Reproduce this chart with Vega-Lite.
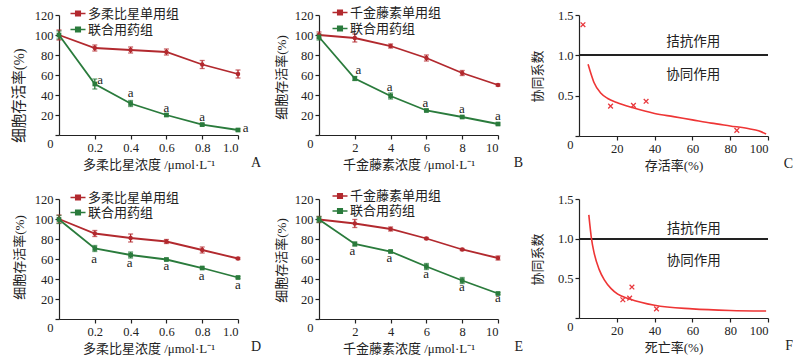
{
  "$schema": "https://vega.github.io/schema/vega-lite/v6.json",
  "background": "white",
  "padding": {"left": 11, "top": 6, "right": 0, "bottom": 0},
  "config": {
    "font": "Liberation Serif, Noto Sans CJK SC",
    "view": {"stroke": null},
    "axis": {"grid": false, "domainColor": "#222", "tickColor": "#222", "labelColor": "#222", "titleColor": "#222", "labelFontSize": 12.5, "titleFontSize": 13, "titleFontWeight": "normal", "tickSize": 4, "labelPadding": 2, "titlePadding": 5, "domainWidth": 1.2, "tickWidth": 1.2, "labelFont": "Liberation Serif", "titleFont": "Liberation Serif, Noto Sans CJK SC"},
    "legend": {"labelFont": "Liberation Serif, Noto Sans CJK SC", "labelFontSize": 13, "labelColor": "#222"},
    "title": {"font": "Liberation Serif", "fontSize": 14, "fontWeight": "normal", "color": "#222"},
    "text": {"font": "Liberation Serif, Noto Sans CJK SC"}
  },
  "datasets": {
    "A": [
      {"x": 0, "y": 100, "err": 5, "group": "多柔比星单用组"},
      {"x": 0.2, "y": 87, "err": 3, "group": "多柔比星单用组"},
      {"x": 0.4, "y": 85, "err": 3, "group": "多柔比星单用组"},
      {"x": 0.6, "y": 83, "err": 3, "group": "多柔比星单用组"},
      {"x": 0.8, "y": 70.5, "err": 4, "group": "多柔比星单用组"},
      {"x": 1.0, "y": 61, "err": 4, "group": "多柔比星单用组"},
      {"x": 0, "y": 100, "err": 4, "group": "联合用药组"},
      {"x": 0.2, "y": 51, "err": 5, "group": "联合用药组"},
      {"x": 0.4, "y": 31.5, "err": 3, "group": "联合用药组"},
      {"x": 0.6, "y": 20, "err": 1.2, "group": "联合用药组"},
      {"x": 0.8, "y": 10.4, "err": 1.2, "group": "联合用药组"},
      {"x": 1.0, "y": 5, "err": 1.2, "group": "联合用药组"}
    ],
    "Aa": [
      {"x": 0.23, "y": 55.3, "t": "a"}, {"x": 0.4, "y": 42, "t": "a"}, {"x": 0.6, "y": 27.5, "t": "a"}, {"x": 0.8, "y": 17.8, "t": "a"}, {"x": 1.043, "y": 7.4, "t": "a"}
    ],
    "B": [
      {"x": 0, "y": 100, "err": 3, "group": "千金藤素单用组"},
      {"x": 2, "y": 97, "err": 4, "group": "千金藤素单用组"},
      {"x": 4, "y": 89, "err": 2, "group": "千金藤素单用组"},
      {"x": 6, "y": 77, "err": 3, "group": "千金藤素单用组"},
      {"x": 8, "y": 62, "err": 2.5, "group": "千金藤素单用组"},
      {"x": 10, "y": 50, "err": 1, "group": "千金藤素单用组"},
      {"x": 0, "y": 98, "err": 3, "group": "联合用药组"},
      {"x": 2, "y": 56.5, "err": 2, "group": "联合用药组"},
      {"x": 4, "y": 39, "err": 3, "group": "联合用药组"},
      {"x": 6, "y": 24.5, "err": 1, "group": "联合用药组"},
      {"x": 8, "y": 18, "err": 1, "group": "联合用药组"},
      {"x": 10, "y": 11, "err": 1, "group": "联合用药组"}
    ],
    "Ba": [
      {"x": 2.2, "y": 65.4, "t": "a"}, {"x": 3.95, "y": 47.6, "t": "a"}, {"x": 5.95, "y": 31.8, "t": "a"}, {"x": 7.98, "y": 25.8, "t": "a"}, {"x": 10, "y": 19.4, "t": "a"}
    ],
    "D": [
      {"x": 0, "y": 100, "err": 4, "group": "多柔比星单用组"},
      {"x": 0.2, "y": 85.5, "err": 3, "group": "多柔比星单用组"},
      {"x": 0.4, "y": 81, "err": 4, "group": "多柔比星单用组"},
      {"x": 0.6, "y": 77.5, "err": 2, "group": "多柔比星单用组"},
      {"x": 0.8, "y": 69, "err": 3, "group": "多柔比星单用组"},
      {"x": 1.0, "y": 60.5, "err": 1, "group": "多柔比星单用组"},
      {"x": 0, "y": 99.5, "err": 4, "group": "联合用药组"},
      {"x": 0.2, "y": 70.5, "err": 3, "group": "联合用药组"},
      {"x": 0.4, "y": 64, "err": 3, "group": "联合用药组"},
      {"x": 0.6, "y": 59.5, "err": 1, "group": "联合用药组"},
      {"x": 0.8, "y": 51, "err": 1, "group": "联合用药组"},
      {"x": 1.0, "y": 41.5, "err": 1, "group": "联合用药组"}
    ],
    "Da": [
      {"x": 0.196, "y": 60, "t": "a"}, {"x": 0.395, "y": 55.7, "t": "a"}, {"x": 0.6, "y": 53.3, "t": "a"}, {"x": 0.797, "y": 43.3, "t": "a"}, {"x": 1.0, "y": 34.3, "t": "a"}
    ],
    "E": [
      {"x": 0, "y": 99.5, "err": 3, "group": "千金藤素单用组"},
      {"x": 2, "y": 95.5, "err": 4, "group": "千金藤素单用组"},
      {"x": 4, "y": 90, "err": 2, "group": "千金藤素单用组"},
      {"x": 6, "y": 80.5, "err": 1, "group": "千金藤素单用组"},
      {"x": 8, "y": 69.5, "err": 1, "group": "千金藤素单用组"},
      {"x": 10, "y": 61, "err": 2, "group": "千金藤素单用组"},
      {"x": 0, "y": 99.5, "err": 3, "group": "联合用药组"},
      {"x": 2, "y": 75, "err": 2, "group": "联合用药组"},
      {"x": 4, "y": 67.5, "err": 1, "group": "联合用药组"},
      {"x": 6, "y": 52.5, "err": 3, "group": "联合用药组"},
      {"x": 8, "y": 38.5, "err": 3, "group": "联合用药组"},
      {"x": 10, "y": 25.5, "err": 1, "group": "联合用药组"}
    ],
    "Ea": [
      {"x": 1.87, "y": 68.3, "t": "a"}, {"x": 3.93, "y": 60.7, "t": "a"}, {"x": 5.98, "y": 45, "t": "a"}, {"x": 7.98, "y": 31.7, "t": "a"}, {"x": 10, "y": 21, "t": "a"}
    ],
    "Cc": [
      {"x": 4.8, "y": 0.89}, {"x": 6.5, "y": 0.76}, {"x": 8, "y": 0.66}, {"x": 11.6, "y": 0.53}, {"x": 15.2, "y": 0.465}, {"x": 20, "y": 0.415},
      {"x": 28.6, "y": 0.35}, {"x": 40, "y": 0.28}, {"x": 50, "y": 0.24}, {"x": 60, "y": 0.2}, {"x": 70, "y": 0.16}, {"x": 80, "y": 0.125},
      {"x": 90, "y": 0.09}, {"x": 95, "y": 0.065}, {"x": 99, "y": 0.025}
    ],
    "Cp": [
      {"x": 2.1, "y": 1.38}, {"x": 16.7, "y": 0.37}, {"x": 28.8, "y": 0.38}, {"x": 35.5, "y": 0.43}, {"x": 83.5, "y": 0.07}
    ],
    "Ct": [
      {"x": 60.5, "y": 1.17, "t": "拮抗作用"}, {"x": 60.5, "y": 0.76, "t": "协同作用"}
    ],
    "Fc": [
      {"x": 5.2, "y": 1.3}, {"x": 6.6, "y": 1.0}, {"x": 8, "y": 0.82}, {"x": 10.7, "y": 0.61}, {"x": 13.4, "y": 0.48}, {"x": 17, "y": 0.37},
      {"x": 20.5, "y": 0.3}, {"x": 26.8, "y": 0.24}, {"x": 40, "y": 0.16}, {"x": 60, "y": 0.115}, {"x": 80, "y": 0.095}, {"x": 99, "y": 0.088}
    ],
    "Fp": [
      {"x": 23.2, "y": 0.23}, {"x": 26.8, "y": 0.25}, {"x": 28, "y": 0.39}, {"x": 41, "y": 0.115}
    ],
    "Ft": [
      {"x": 60.7, "y": 1.12, "t": "拮抗作用"}, {"x": 60.7, "y": 0.72, "t": "协同作用"}
    ]
  },
  "columns": 3,
  "spacing": {"row": 63, "column": 81},
  "bounds": "flush",
  "resolve": {"scale": {"x": "independent", "y": "independent", "color": "independent"}, "legend": {"color": "independent"}},
  "concat": [
    {
      "width": 179, "height": 120,
      "title": {"text": "A", "orient": "bottom", "anchor": "end", "frame": "group", "dx": 23, "dy": -20},
      "encoding": {
        "x": {"field": "x", "type": "quantitative", "scale": {"domain": [0, 1], "nice": false}, "axis": {"values": [0.2, 0.4, 0.6, 0.8, 1.0], "format": ".1f", "title": "多柔比星浓度 /μmol·L⁻¹"}},
        "y": {"field": "y", "type": "quantitative", "scale": {"domain": [0, 120], "nice": false}, "axis": {"values": [0, 20, 40, 60, 80, 100, 120], "title": "细胞存活率(%)", "titleFontSize": 14.5, "titleX": -40, "titleY": 80, "titleBaseline": "middle", "labelOffset": {"condition": {"test": "datum.value === 0", "value": 8}, "value": 0}}}
      },
      "layer": [
        {"data": {"name": "A"}, "mark": {"type": "line", "strokeWidth": 1.8},
         "encoding": {"color": {"field": "group", "type": "nominal", "scale": {"domain": ["多柔比星单用组", "联合用药组"], "range": ["#b2292e", "#2a7b3c"]},
           "legend": {"orient": "none", "legendX": 12.5, "legendY": -8, "title": null, "padding": 0, "rowPadding": 2, "labelOffset": 3.5, "symbolType": "M-1.5,0H1.5M-0.45,-0.45H0.45V0.45H-0.45Z", "symbolSize": 100, "symbolStrokeWidth": 1.6,
             "encode": {"symbols": {"update": {"fill": {"signal": "datum.value == '联合用药组' ? '#2a7b3c' : '#b2292e'"}, "stroke": {"signal": "datum.value == '联合用药组' ? '#2a7b3c' : '#b2292e'"}, "opacity": {"value": 1}}}}}}}},
        {"data": {"name": "A"}, "mark": {"type": "errorbar", "ticks": {"size": 5}, "thickness": 1.3},
         "encoding": {"yError": {"field": "err"}, "color": {"field": "group", "type": "nominal", "legend": null}}},
        {"data": {"name": "A"}, "transform": [{"filter": "datum.group != '联合用药组'"}], "mark": {"type": "point", "shape": "circle", "filled": true, "opacity": 1, "size": 20},
         "encoding": {"color": {"field": "group", "type": "nominal", "legend": null}}},
        {"data": {"name": "A"}, "transform": [{"filter": "datum.group == '联合用药组'"}], "mark": {"type": "point", "shape": "square", "filled": true, "opacity": 1, "size": 22},
         "encoding": {"color": {"field": "group", "type": "nominal", "legend": null}}},
        {"data": {"name": "Aa"}, "mark": {"type": "text", "fontSize": 13, "color": "#222", "baseline": "middle"}, "encoding": {"text": {"field": "t"}}}
      ]
    },
    {
      "width": 179, "height": 120,
      "title": {"text": "B", "orient": "bottom", "anchor": "end", "frame": "group", "dx": 25, "dy": -20},
      "encoding": {
        "x": {"field": "x", "type": "quantitative", "scale": {"domain": [0, 10], "nice": false}, "axis": {"values": [2, 4, 6, 8, 10], "title": "千金藤素浓度 /μmol·L⁻¹"}},
        "y": {"field": "y", "type": "quantitative", "scale": {"domain": [0, 120], "nice": false}, "axis": {"values": [0, 20, 40, 60, 80, 100, 120], "title": "细胞存活率(%)", "titleX": -38, "titleY": 62, "titleBaseline": "middle", "labelOffset": {"condition": {"test": "datum.value === 0", "value": 8}, "value": 0}}}
      },
      "layer": [
        {"data": {"name": "B"}, "mark": {"type": "line", "strokeWidth": 1.8},
         "encoding": {"color": {"field": "group", "type": "nominal", "scale": {"domain": ["千金藤素单用组", "联合用药组"], "range": ["#b2292e", "#2a7b3c"]},
           "legend": {"orient": "none", "legendX": 14.5, "legendY": -9, "title": null, "padding": 0, "rowPadding": 2, "labelOffset": 3.5, "symbolType": "M-1.5,0H1.5M-0.45,-0.45H0.45V0.45H-0.45Z", "symbolSize": 100, "symbolStrokeWidth": 1.6,
             "encode": {"symbols": {"update": {"fill": {"signal": "datum.value == '联合用药组' ? '#2a7b3c' : '#b2292e'"}, "stroke": {"signal": "datum.value == '联合用药组' ? '#2a7b3c' : '#b2292e'"}, "opacity": {"value": 1}}}}}}}},
        {"data": {"name": "B"}, "mark": {"type": "errorbar", "ticks": {"size": 5}, "thickness": 1.3},
         "encoding": {"yError": {"field": "err"}, "color": {"field": "group", "type": "nominal", "legend": null}}},
        {"data": {"name": "B"}, "transform": [{"filter": "datum.group != '联合用药组'"}], "mark": {"type": "point", "shape": "circle", "filled": true, "opacity": 1, "size": 20},
         "encoding": {"color": {"field": "group", "type": "nominal", "legend": null}}},
        {"data": {"name": "B"}, "transform": [{"filter": "datum.group == '联合用药组'"}], "mark": {"type": "point", "shape": "square", "filled": true, "opacity": 1, "size": 22},
         "encoding": {"color": {"field": "group", "type": "nominal", "legend": null}}},
        {"data": {"name": "Ba"}, "mark": {"type": "text", "fontSize": 13, "color": "#222", "baseline": "middle"}, "encoding": {"text": {"field": "t"}}}
      ]
    },
    {
      "width": 189, "height": 121,
      "title": {"text": "C", "orient": "bottom", "anchor": "end", "frame": "group", "dx": 25, "dy": -20},
      "encoding": {
        "x": {"field": "x", "type": "quantitative", "scale": {"domain": [0, 100], "nice": false}, "axis": {"values": [20, 40, 60, 80, 100], "title": "存活率(%)"}},
        "y": {"field": "y", "type": "quantitative", "scale": {"domain": [0, 1.5], "nice": false}, "axis": {"values": [0, 0.5, 1.0, 1.5], "labelExpr": "datum.value == 0 ? '0' : format(datum.value, '.1f')", "title": "协同系数", "titleX": -42, "titleY": 61, "titleBaseline": "middle", "labelOffset": {"condition": {"test": "datum.value === 0", "value": 8}, "value": 0}}}
      },
      "layer": [
        {"data": {"name": "Cc"}, "mark": {"type": "rule", "color": "#222", "strokeWidth": 1.5}, "encoding": {"x": {"datum": 0}, "x2": {"datum": 100}, "y": {"datum": 1.0}}},
        {"data": {"name": "Cc"}, "mark": {"type": "line", "color": "#ee3535", "strokeWidth": 1.6, "interpolate": "monotone"}, "encoding": {}},
        {"data": {"name": "Cp"}, "mark": {"type": "point", "shape": "M-1,-1L1,1M1,-1L-1,1", "filled": false, "color": "#e8383d", "strokeWidth": 1.3, "size": 22, "opacity": 1}, "encoding": {}},
        {"data": {"name": "Ct"}, "mark": {"type": "text", "fontSize": 13.5, "color": "#222", "baseline": "middle"}, "encoding": {"text": {"field": "t"}}}
      ]
    },
    {
      "width": 179, "height": 120,
      "title": {"text": "D", "orient": "bottom", "anchor": "end", "frame": "group", "dx": 23, "dy": -20},
      "encoding": {
        "x": {"field": "x", "type": "quantitative", "scale": {"domain": [0, 1], "nice": false}, "axis": {"values": [0.2, 0.4, 0.6, 0.8, 1.0], "format": ".1f", "title": "多柔比星浓度 /μmol·L⁻¹"}},
        "y": {"field": "y", "type": "quantitative", "scale": {"domain": [0, 120], "nice": false}, "axis": {"values": [0, 20, 40, 60, 80, 100, 120], "title": "细胞存活率(%)", "titleX": -40, "titleY": 58, "titleBaseline": "middle", "labelOffset": {"condition": {"test": "datum.value === 0", "value": 8}, "value": 0}}}
      },
      "layer": [
        {"data": {"name": "D"}, "mark": {"type": "line", "strokeWidth": 1.8},
         "encoding": {"color": {"field": "group", "type": "nominal", "scale": {"domain": ["多柔比星单用组", "联合用药组"], "range": ["#b2292e", "#2a7b3c"]},
           "legend": {"orient": "none", "legendX": 12.5, "legendY": -8, "title": null, "padding": 0, "rowPadding": 1, "labelOffset": 3.5, "symbolType": "M-1.5,0H1.5M-0.45,-0.45H0.45V0.45H-0.45Z", "symbolSize": 100, "symbolStrokeWidth": 1.6,
             "encode": {"symbols": {"update": {"fill": {"signal": "datum.value == '联合用药组' ? '#2a7b3c' : '#b2292e'"}, "stroke": {"signal": "datum.value == '联合用药组' ? '#2a7b3c' : '#b2292e'"}, "opacity": {"value": 1}}}}}}}},
        {"data": {"name": "D"}, "mark": {"type": "errorbar", "ticks": {"size": 5}, "thickness": 1.3},
         "encoding": {"yError": {"field": "err"}, "color": {"field": "group", "type": "nominal", "legend": null}}},
        {"data": {"name": "D"}, "transform": [{"filter": "datum.group != '联合用药组'"}], "mark": {"type": "point", "shape": "circle", "filled": true, "opacity": 1, "size": 20},
         "encoding": {"color": {"field": "group", "type": "nominal", "legend": null}}},
        {"data": {"name": "D"}, "transform": [{"filter": "datum.group == '联合用药组'"}], "mark": {"type": "point", "shape": "square", "filled": true, "opacity": 1, "size": 22},
         "encoding": {"color": {"field": "group", "type": "nominal", "legend": null}}},
        {"data": {"name": "Da"}, "mark": {"type": "text", "fontSize": 13, "color": "#222", "baseline": "middle"}, "encoding": {"text": {"field": "t"}}}
      ]
    },
    {
      "width": 179, "height": 120,
      "title": {"text": "E", "orient": "bottom", "anchor": "end", "frame": "group", "dx": 25, "dy": -20},
      "encoding": {
        "x": {"field": "x", "type": "quantitative", "scale": {"domain": [0, 10], "nice": false}, "axis": {"values": [2, 4, 6, 8, 10], "title": "千金藤素浓度 /μmol·L⁻¹"}},
        "y": {"field": "y", "type": "quantitative", "scale": {"domain": [0, 120], "nice": false}, "axis": {"values": [0, 20, 40, 60, 80, 100, 120], "title": "细胞存活率(%)", "titleX": -38, "titleY": 61, "titleBaseline": "middle", "labelOffset": {"condition": {"test": "datum.value === 0", "value": 8}, "value": 0}}}
      },
      "layer": [
        {"data": {"name": "E"}, "mark": {"type": "line", "strokeWidth": 1.8},
         "encoding": {"color": {"field": "group", "type": "nominal", "scale": {"domain": ["千金藤素单用组", "联合用药组"], "range": ["#b2292e", "#2a7b3c"]},
           "legend": {"orient": "none", "legendX": 14.5, "legendY": -9.5, "title": null, "padding": 0, "rowPadding": 1, "labelOffset": 3.5, "symbolType": "M-1.5,0H1.5M-0.45,-0.45H0.45V0.45H-0.45Z", "symbolSize": 100, "symbolStrokeWidth": 1.6,
             "encode": {"symbols": {"update": {"fill": {"signal": "datum.value == '联合用药组' ? '#2a7b3c' : '#b2292e'"}, "stroke": {"signal": "datum.value == '联合用药组' ? '#2a7b3c' : '#b2292e'"}, "opacity": {"value": 1}}}}}}}},
        {"data": {"name": "E"}, "mark": {"type": "errorbar", "ticks": {"size": 5}, "thickness": 1.3},
         "encoding": {"yError": {"field": "err"}, "color": {"field": "group", "type": "nominal", "legend": null}}},
        {"data": {"name": "E"}, "transform": [{"filter": "datum.group != '联合用药组'"}], "mark": {"type": "point", "shape": "circle", "filled": true, "opacity": 1, "size": 20},
         "encoding": {"color": {"field": "group", "type": "nominal", "legend": null}}},
        {"data": {"name": "E"}, "transform": [{"filter": "datum.group == '联合用药组'"}], "mark": {"type": "point", "shape": "square", "filled": true, "opacity": 1, "size": 22},
         "encoding": {"color": {"field": "group", "type": "nominal", "legend": null}}},
        {"data": {"name": "Ea"}, "mark": {"type": "text", "fontSize": 13, "color": "#222", "baseline": "middle"}, "encoding": {"text": {"field": "t"}}}
      ]
    },
    {
      "width": 189, "height": 119,
      "title": {"text": "F", "orient": "bottom", "anchor": "end", "frame": "group", "dx": 25, "dy": -20},
      "encoding": {
        "x": {"field": "x", "type": "quantitative", "scale": {"domain": [0, 100], "nice": false}, "axis": {"values": [20, 40, 60, 80, 100], "title": "死亡率(%)"}},
        "y": {"field": "y", "type": "quantitative", "scale": {"domain": [0, 1.5], "nice": false}, "axis": {"values": [0, 0.5, 1.0, 1.5], "labelExpr": "datum.value == 0 ? '0' : format(datum.value, '.1f')", "title": "协同系数", "titleX": -42, "titleY": 60, "titleBaseline": "middle", "labelOffset": {"condition": {"test": "datum.value === 0", "value": 8}, "value": 0}}}
      },
      "layer": [
        {"data": {"name": "Fc"}, "mark": {"type": "rule", "color": "#222", "strokeWidth": 1.5}, "encoding": {"x": {"datum": 0}, "x2": {"datum": 100}, "y": {"datum": 1.0}}},
        {"data": {"name": "Fc"}, "mark": {"type": "line", "color": "#ee3535", "strokeWidth": 1.6, "interpolate": "monotone"}, "encoding": {}},
        {"data": {"name": "Fp"}, "mark": {"type": "point", "shape": "M-1,-1L1,1M1,-1L-1,1", "filled": false, "color": "#e8383d", "strokeWidth": 1.3, "size": 22, "opacity": 1}, "encoding": {}},
        {"data": {"name": "Ft"}, "mark": {"type": "text", "fontSize": 13.5, "color": "#222", "baseline": "middle"}, "encoding": {"text": {"field": "t"}}}
      ]
    }
  ]
}
